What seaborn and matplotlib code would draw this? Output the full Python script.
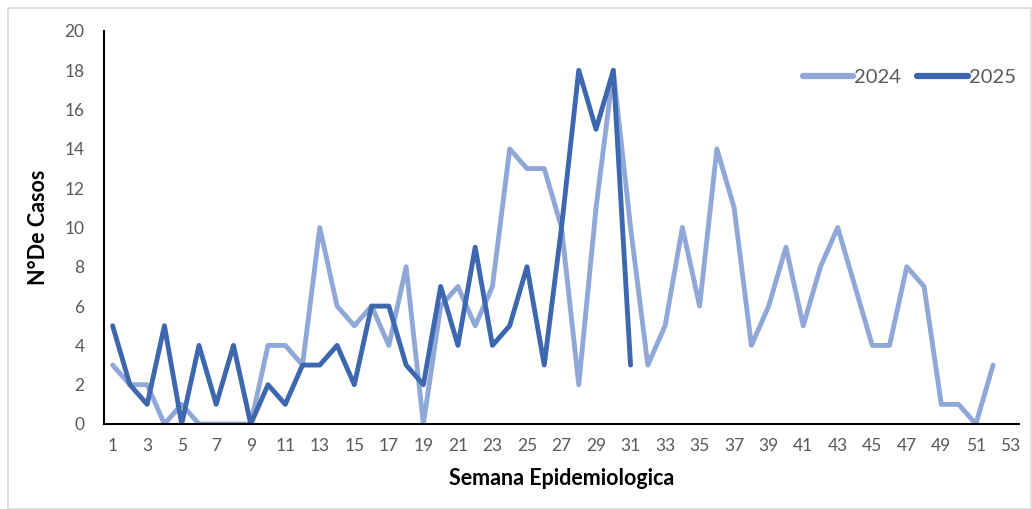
import matplotlib
matplotlib.use("Agg")
import matplotlib.pyplot as plt
import seaborn as sns
import pandas as pd
from matplotlib.patches import Rectangle

# ---- data ----
semanas_2024 = list(range(1, 53))
casos_2024 = [3, 2, 2, 0, 1, 0, 0, 0, 0, 4, 4, 3, 10, 6, 5, 6, 4, 8, 0, 6,
              7, 5, 7, 14, 13, 13, 10, 2, 11, 18, 10, 3, 5, 10, 6, 14, 11, 4, 6, 9,
              5, 8, 10, 7, 4, 4, 8, 7, 1, 1, 0, 3]
semanas_2025 = list(range(1, 32))
casos_2025 = [5, 2, 1, 5, 0, 4, 1, 4, 0, 2, 1, 3, 3, 4, 2, 6, 6, 3, 2, 7,
              4, 9, 4, 5, 8, 3, 10, 18, 15, 18, 3]
series = ["2024", "2025"]
x_ticks = list(range(1, 54, 2))
y_ticks = list(range(0, 21, 2))

df = pd.concat([
    pd.DataFrame({"Semana": semanas_2024, "Casos": casos_2024, "Año": series[0]}),
    pd.DataFrame({"Semana": semanas_2025, "Casos": casos_2025, "Año": series[1]}),
], ignore_index=True)

sns.set_theme(style="white")
plt.rcParams["font.family"] = ["Lato", "DejaVu Sans"]

fig = plt.figure(figsize=(10.32, 5.09), dpi=100)
ax = fig.add_axes([104 / 1032, (509 - 424) / 509, (1019 - 104) / 1032, 393 / 509])

palette = {"2024": "#8FA8D8", "2025": "#3D67AF"}
sns.lineplot(data=df, x="Semana", y="Casos", hue="Año", palette=palette,
             linewidth=3.5, ax=ax, legend=True)

ax.set_xlim(0.5, 53.5)
ax.set_ylim(0, 20)
ax.set_xticks(x_ticks)
ax.set_xticklabels([str(t) for t in x_ticks])
ax.set_yticks(y_ticks)
ax.tick_params(axis="both", length=0, labelsize=12.5, labelcolor="#595959")
ax.tick_params(axis="x", pad=10)
ax.tick_params(axis="y", pad=14)

for s in ["top", "right"]:
    ax.spines[s].set_visible(False)
for s in ["left", "bottom"]:
    ax.spines[s].set_color("black")
    ax.spines[s].set_linewidth(1.5)

ax.set_xlabel("Semana Epidemiologica", fontsize=15.5, fontweight="bold", color="black", labelpad=10)
ax.set_ylabel("N°De Casos", fontsize=15.5, fontweight="bold", color="black", labelpad=11)

leg = ax.legend(loc="upper right", bbox_to_anchor=(1.016, 0.95), frameon=False, ncol=2,
                fontsize=14.5, handlelength=2.5, handletextpad=0.05, columnspacing=0.8)
for t in leg.get_texts():
    t.set_color("#595959")
for h in leg.get_lines():
    h.set_linewidth(4.5)
    h.set_solid_capstyle("round")

fig.patches.append(Rectangle((8 / 1032, 0.0), 1 - 9 / 1032, 1 - 8 / 509,
                             transform=fig.transFigure, fill=False,
                             edgecolor="#D9D9D9", linewidth=1.2))

fig.savefig("out.png", dpi=100)
